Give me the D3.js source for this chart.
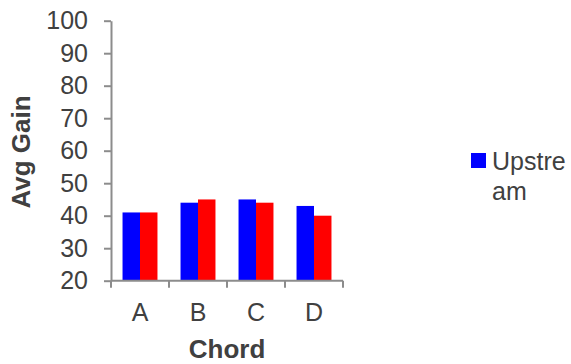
<!DOCTYPE html>
<html>
<head>
<meta charset="utf-8">
<script src="https://d3js.org/d3.v7.min.js"></script>
<style>
body { margin: 0; background: #fff; }
svg { display: block; font-family: "Liberation Sans", Arial, sans-serif; }
.axis path, .axis line { stroke: #8c8c8c; stroke-width: 2px; fill: none; }
.axis text { fill: #404040; font-size: 25px; }
.title { fill: #404040; font-size: 26px; font-weight: bold; }
.legend text { fill: #404040; font-size: 25px; }
</style>
</head>
<body>
<div id="chart"></div>
<script>
// chart data
var chords = ["A", "B", "C", "D"];
var series = ["Upstream", "Downstream"];
var upstream = [41, 44, 45, 43];
var downstream = [41, 45, 44, 40];
var yTicks = [20, 30, 40, 50, 60, 70, 80, 90, 100];
var colors = ["#0000ff", "#ff0000"];

var W = 571, H = 364;
var svg = d3.select("#chart").append("svg")
    .attr("width", W)
    .attr("height", H);

var x0 = d3.scaleBand().domain(chords).range([111, 343]).padding(0);
var x1 = d3.scaleBand().domain(series).range([0, x0.bandwidth()])
    .paddingInner(0).paddingOuter(0.66);
var y = d3.scaleLinear().domain([20, 100]).range([280.7, 20.7]);
var z = d3.scaleOrdinal().domain(series).range(colors);

var rows = chords.map(function(c, i) {
    return { chord: c, values: [upstream[i], downstream[i]] };
});

// bars
var g = svg.append("g");
g.selectAll("g")
    .data(rows)
  .enter().append("g")
    .attr("transform", function(d) { return "translate(" + x0(d.chord) + ",0)"; })
  .selectAll("rect")
    .data(function(d) { return series.map(function(s, j) { return { key: s, value: d.values[j] }; }); })
  .enter().append("rect")
    .attr("x", function(d) { return x1(d.key); })
    .attr("y", function(d) { return y(d.value); })
    .attr("width", x1.bandwidth())
    .attr("height", function(d) { return y(20) - y(d.value); })
    .attr("fill", function(d) { return z(d.key); });

// y axis
svg.append("g")
    .attr("class", "axis")
    .attr("transform", "translate(111,0)")
    .call(d3.axisLeft(y).tickValues(yTicks).tickSize(7).tickSizeOuter(0).tickPadding(16));

// x axis: ticks at band edges
var xAxis = svg.append("g")
    .attr("class", "axis")
    .attr("transform", "translate(0," + y(20) + ")");
xAxis.append("line")
    .attr("x1", x0.range()[0]).attr("x2", x0.range()[1])
    .attr("y1", 0).attr("y2", 0);
var edges = chords.map(function(c) { return x0(c); }).concat([x0.range()[1]]);
xAxis.selectAll(".edge")
    .data(edges)
  .enter().append("line")
    .attr("class", "edge")
    .attr("x1", function(d) { return d; }).attr("x2", function(d) { return d; })
    .attr("y1", 0).attr("y2", 7);
xAxis.selectAll(".lbl")
    .data(chords)
  .enter().append("text")
    .attr("class", "lbl")
    .attr("x", function(d) { return x0(d) + x0.bandwidth() / 2; })
    .attr("y", 40)
    .attr("text-anchor", "middle")
    .text(function(d) { return d; });

// axis titles
svg.append("text")
    .attr("class", "title")
    .attr("x", 227).attr("y", 358)
    .attr("text-anchor", "middle")
    .text("Chord");
svg.append("text")
    .attr("class", "title")
    .attr("transform", "translate(30,152) rotate(-90)")
    .attr("text-anchor", "middle")
    .text("Avg Gain");

// legend (only first entry visible, name wraps)
var leg = svg.append("g").attr("class", "legend");
leg.append("rect")
    .attr("x", 471).attr("y", 153)
    .attr("width", 15).attr("height", 15)
    .attr("fill", z(series[0]));
var lt = leg.append("text").attr("x", 492).attr("y", 170);
lt.append("tspan").attr("x", 492).text(series[0].slice(0, 6));
lt.append("tspan").attr("x", 492).attr("dy", 30).text(series[0].slice(6));
</script>
</body>
</html>
